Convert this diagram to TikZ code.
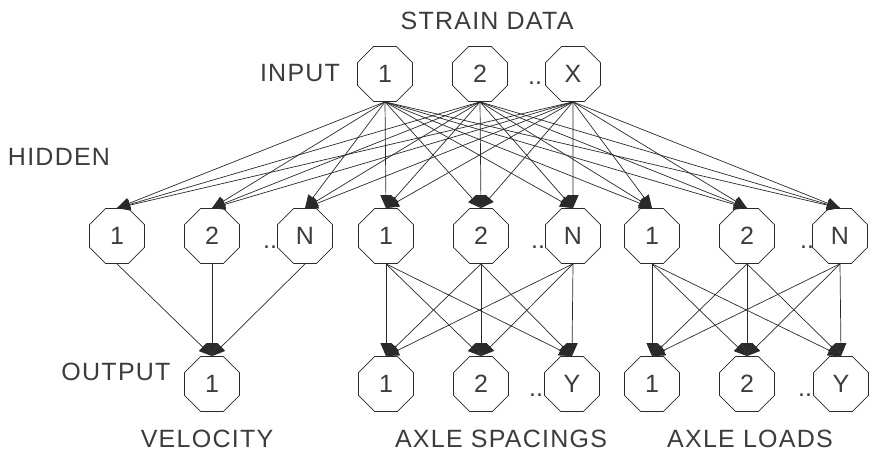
\documentclass[tikz,border=0pt]{standalone}
\usepackage{fontspec}
\setmainfont{Liberation Sans}
\newfontfamily\lblfont[LetterSpace=5]{Liberation Sans}
\usetikzlibrary{shapes.geometric,arrows.meta}
\definecolor{linecol}{HTML}{2A2A2A}
\definecolor{txtcol}{HTML}{3C3C3C}
\tikzset{
  octo/.style={regular polygon, regular polygon sides=8, draw=linecol, line width=0.8pt,
    minimum size=59.5pt, inner sep=0pt, font=\fontsize{25}{25}\selectfont, text=txtcol},
  lbl/.style={font=\lblfont\fontsize{25}{25}\selectfont, text=txtcol, inner sep=0pt},
  dotlbl/.style={font=\fontsize{25}{25}\selectfont, text=txtcol, inner sep=0pt, anchor=base},
  conn/.style={draw=linecol, line width=0.7pt, -{Triangle[length=13pt,width=11pt]}}
}
\begin{document}
\begin{tikzpicture}[x=1pt,y=-1pt]
\useasboundingbox[fill=white] (0,0) rectangle (872,460);
% input
\node[octo] (i1) at (385,74) {1};
\node[octo] (i2) at (480,74) {2};
\node[octo] (iX) at (573,74) {X};
% hidden
\node[octo] (a1) at (117,236) {1};
\node[octo] (a2) at (212,236) {2};
\node[octo] (aN) at (305,236) {N};
\node[octo] (b1) at (386,236) {1};
\node[octo] (b2) at (481,236) {2};
\node[octo] (bN) at (573,236) {N};
\node[octo] (c1) at (652,236) {1};
\node[octo] (c2) at (747,236) {2};
\node[octo] (cN) at (840,236) {N};
% output
\node[octo] (v1) at (212,384) {1};
\node[octo] (s1) at (386,384) {1};
\node[octo] (s2) at (481,384) {2};
\node[octo] (sY) at (572,384) {Y};
\node[octo] (l1) at (652,384) {1};
\node[octo] (l2) at (747,384) {2};
\node[octo] (lY) at (841,384) {Y};
% dots
\node[dotlbl] (d0) at (535,84) {..};
\node[dotlbl] (d1) at (270,248) {..};
\node[dotlbl] (d2) at (538,248) {..};
\node[dotlbl] (d3) at (807,248) {..};
\node[dotlbl] (d4) at (536,396) {..};
\node[dotlbl] (d5) at (805,396) {..};
% labels
\node[lbl] (tstrain) at (487,21) {STRAIN DATA};
\node[lbl] (tin) at (300,73) {INPUT};
\node[lbl] (thid) at (59,157) {HIDDEN};
\node[lbl] (tout) at (116,372) {OUTPUT};
\node[lbl] (tvel) at (207,439) {VELOCITY};
\node[lbl] (tsp) at (501,439) {AXLE SPACINGS};
\node[lbl] (tld) at (750,439) {AXLE LOADS};
% input -> hidden
\foreach \s in {i1,i2,iX}{
  \foreach \t in {a1,a2,aN,b1,b2,bN,c1,c2,cN}{
    \draw[conn] (\s.south) -- (\t.north);
  }
}
% hidden -> output
\foreach \s in {a1,a2,aN}{ \draw[conn] (\s.south) -- (v1.north); }
\foreach \s in {b1,b2,bN}{
  \foreach \t in {s1,s2,sY}{ \draw[conn] (\s.south) -- (\t.north); }
}
\foreach \s in {c1,c2,cN}{
  \foreach \t in {l1,l2,lY}{ \draw[conn] (\s.south) -- (\t.north); }
}
\end{tikzpicture}
\end{document}
